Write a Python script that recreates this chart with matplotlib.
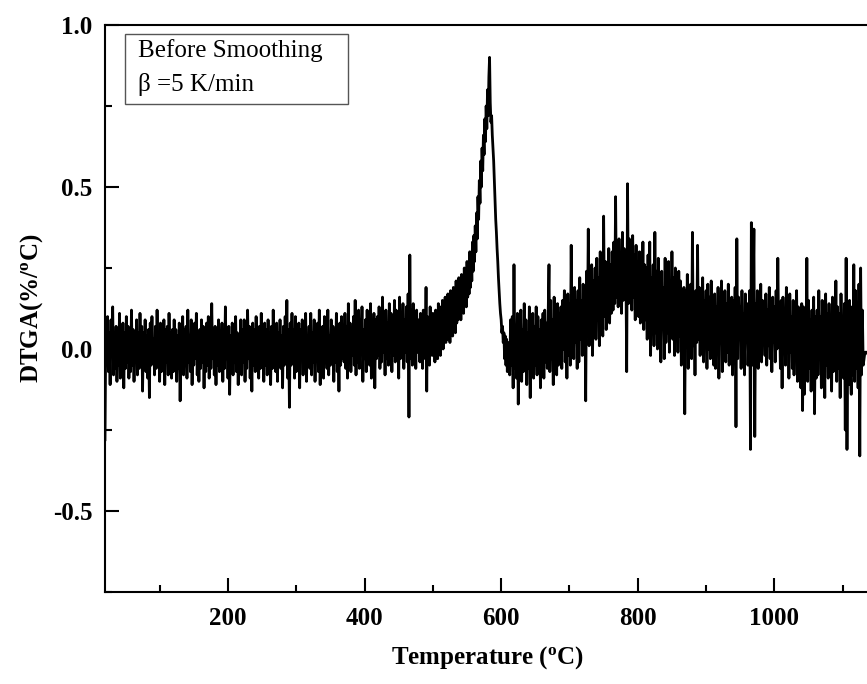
#DTGA curve before smoothing, beta = 5 K/min

import numpy as np
import matplotlib
matplotlib.use('Agg')
import matplotlib.pyplot as plt
from matplotlib.patches import Rectangle

plt.rcParams['font.family'] = ['Liberation Serif', 'DejaVu Serif']
plt.rcParams['mathtext.fontset'] = 'custom'
plt.rcParams['mathtext.rm'] = 'Liberation Serif'
plt.rcParams['mathtext.bf'] = 'Liberation Serif:bold'

# values, in hundredths of %/oC
# baseline, 20 .. 478.75 C every 1.25 C
base_start, base_step = 20.0, 1.25
base_vals = [
    -28, 8, -4, 10, -7, 5, -11, 9, -2, 13, -8, 4, -6, 7, -10, 3, -5, 11, -9, 6,
    -3, 8, -12, 5, -6, 10, -4, 7, -9, 3, -7, 12, -5, 6, -10, 4, -3, 9, -8, 5,
    -6, 11, -4, 7, -13, 5, -3, 9, -7, 4, -9, 6, -15, 8, -5, 10, -4, 3, -8, 7,
    -6, 12, -3, 5, -10, 8, -7, 4, -5, 9, -11, 6, -4, 7, -8, 11, -2, 5, -9, 6,
    -7, 9, -4, 6, -10, 4, -6, 8, -16, 5, -3, 10, -8, 6, -5, 7, -9, 12, -4, 3,
    -7, 9, -11, 5, -5, 8, -3, 11, -8, 4, -10, 6, -6, 9, -4, 7, -12, 5, -7, 8,
    -5, 10, -9, 4, -6, 14, -3, 6, -8, 7, -11, 5, -5, 9, -7, 3, -4, 8, -10, 6,
    -6, 13, -3, 5, -9, 7, -14, 4, -5, 8, -8, 6, -4, 10, -7, 5, -11, 3, -5, 9,
    -8, 6, -4, 9, -10, 5, -6, 12, -3, 7, -9, 4, -13, 8, -5, 6, -7, 10, -4, 5,
    -9, 7, -6, 11, -3, 4, -10, 8, -5, 6, -8, 9, -4, 5, -11, 7, -6, 12, -3, 6,
    -7, 8, -10, 5, -4, 9, -6, 4, -12, 7, -5, 10, -3, 15, -9, 6, -18, 8, -5, 11,
    -4, 6, -9, 10, -7, 4, -5, 8, -12, 6, -3, 9, -8, 5, -6, 11, -10, 4, -4, 7,
    -6, 11, -8, 5, -4, 9, -10, 6, -3, 8, -7, 12, -11, 5, -5, 7, -9, 10, -4, 6,
    -6, 12, -8, 4, -5, 9, -3, 7, -10, 6, -4, 11, -7, 5, -13, 8, -5, 10, -3, 6,
    -4, 11, -6, 7, -9, 14, -3, 8, -7, 6, -2, 10, -5, 15, -8, 7, -4, 12, -6, 9,
    -1, 13, -10, 6, -3, 9, -7, 12, -2, 8, -5, 14, -9, 7, -4, 11, -12, 9, -3, 10,
    -2, 13, -6, 9, -4, 16, -1, 10, -8, 12, -3, 8, -5, 14, 0, 11, -7, 9, -2, 15,
    -4, 12, -1, 10, -9, 16, -3, 11, -2, 14, -6, 9, -1, 13, -4, 17, -21, 29, -3, 12,
    -5, 14, -2, 10, -6, 12, -1, 9,
]

# main peak, 480 .. 610 C every 1 C
peak_start, peak_step = 480.0, 1.0
peak_vals = [
    8, -4, 11, -2, 6, -6, 12, 0, 9, -3, 19, -13, 10, -1, 8, -5, 13, 1, 9, -2,
    11, -1, 10, -4, 12, 2, 9, -3, 14, 1, 11, -2, 13, 3, 15, 0, 12, 4, 16, 2,
    14, 3, 17, 5, 15, 2, 18, 6, 16, 4, 19, 7, 17, 5, 21, 8, 19, 9, 22, 10,
    20, 9, 23, 12, 22, 11, 25, 14, 24, 13, 27, 16, 26, 17, 30, 19, 29, 21, 33, 24,
    35, 27, 38, 30, 42, 34, 47, 40, 52, 45, 58, 50, 62, 55, 66, 60, 71, 64, 75, 68,
    80, 72, 84, 90, 76, 70, 72, 66, 62, 58, 52, 46, 40, 36, 31, 27, 22, 18, 14, 11,
    9, 5, 7, 2, 5, -3, 4, -5, 3, -7, 2,
]

# broad second event and tail, 612.5 .. 1130 C every 1.25 C
tail_start, tail_step = 612.5, 1.25
tail_vals = [
    -8, 9, -5, 10, -12, 26, -6, 7, -9, 11, -17, 8, -4, 12, -10, 6, -7, 14, -3, 9,
    -11, 5, -6, 13, -15, 8, -2, 11, -9, 7, -5, 13, -8, 10, -4, 6, -12, 9, -3, 11,
    -9, 12, -4, 8, -6, 10, 26, -7, 15, -3, 9, -11, 16, -2, 12, -8, 14, -5, 11, -1,
    13, -6, 15, 0, 18, -4, 12, -9, 17, -2, 14, -5, 32, 1, 16, -3, 19, 2, 15, -6,
    18, -4, 22, 3, 15, -2, 20, 5, 14, -16, 24, 4, 37, 1, 19, 8, 26, -2, 21, 6,
    25, 3, 28, 9, 22, 1, 30, 7, 24, 4, 41, 10, 27, 6, 23, 12, 31, 8, 26, 11,
    30, 12, 33, 14, 47, 16, 29, 13, 34, 17, 28, 11, 36, 15, 31, 19, 27, -7, 51, 14,
    34, 18, 30, 12, 35, 16, 29, 9, 32, 13, 27, 10, 30, 8, 28, 11, 33, 6, 26, 9,
    25, 3, 29, 7, 33, -2, 22, 6, 26, 1, 36, 5, 24, 0, 28, 4, 20, -4, 24, 7,
    19, -3, 28, 2, 23, 5, 27, -1, 21, 4, 30, 3, 22, -2, 25, 6, 20, -1, 24, 4,
    21, -5, 15, 2, 19, -20, 18, 4, 23, -6, 16, 1, 20, -3, 36, 1, 14, -8, 18, 2,
    32, 3, 19, -2, 17, 4, 22, -4, 15, 1, 18, -6, 20, 0, 16, -3, 21, 2, 14, -5,
    17, -6, 13, 1, 19, -9, 15, 4, 21, -7, 12, 2, 18, -4, 14, -1, 20, -5, 13, 3,
    16, -8, 15, 0, 19, -24, 34, -3, 16, 5, 13, -6, 18, -2, 11, -8, 17, 2, 14, -5,
    3, 18, -31, 39, -5, 14, 37, -27, 14, 2, 18, -6, 12, 0, 20, -4, 15, 6, 13, -2,
    17, -5, 12, 1, 19, -3, 14, -7, 16, 2, 13, -4, 18, 0, 28, 4, 11, -6, 15, -12,
    16, 1, 11, -5, 19, 3, 14, -9, 17, -1, 10, -6, 15, -8, 12, -3, 18, -10, 13, -5,
    9, -12, 14, -19, 13, -14, 11, -7, 28, -10, 15, -6, 9, -13, 12, -4, 16, -20, 10, -9,
    12, -8, 18, -3, 10, -12, 15, 0, 8, -15, 17, -5, 11, -9, 14, -2, 9, -13, 16, -7,
    12, -4, 21, -10, 13, -6, 11, -15, 17, -3, 10, -9, 14, -25, 28, -31, 9, -11, 15, -6,
    -14, 13, -8, 26, -10, 18, -6, 14, -12, 20, -33, 25, -8, 12, -5,
]

# flat end of the record
end_temps = [1132.5, 1135.0, 1138.0]
end_vals = [-1, -1, -2]

T = np.concatenate([
    base_start + base_step * np.arange(len(base_vals)),
    peak_start + peak_step * np.arange(len(peak_vals)),
    tail_start + tail_step * np.arange(len(tail_vals)),
    end_temps,
])
dtga = np.concatenate([base_vals, peak_vals, tail_vals, end_vals]) / 100.0

fig = plt.figure(figsize=(8.67, 6.84), dpi=100)
ax = fig.add_axes([0.1211, 0.1345, 0.8824, 0.829])

ax.plot(T, dtga, color='black', lw=2.0)

ax.set_xlim(20, 1140)
ax.set_ylim(-0.75, 1.0)
ax.set_xticks([200, 400, 600, 800, 1000])
ax.set_xticks(np.arange(100, 1200, 100), minor=True)
ax.set_yticks([-0.5, 0.0, 0.5, 1.0])
ax.set_yticks([-0.75, -0.25, 0.25, 0.75], minor=True)
ax.set_yticklabels(['-0.5', '0.0', '0.5', '1.0'])

ax.tick_params(which='both', direction='in', width=1.5, labelsize=18, top=False, right=False)
ax.tick_params(which='major', length=10)
ax.tick_params(which='minor', length=5)
ax.tick_params(axis='x', pad=11)
ax.tick_params(axis='y', pad=9)
for lab in ax.get_xticklabels() + ax.get_yticklabels():
    lab.set_fontweight('bold')
for sp in ax.spines.values():
    sp.set_linewidth(1.5)

ax.set_xlabel(r'Temperature ($\mathbf{^{o}}$C)', fontsize=18, fontweight='bold', labelpad=10)
ax.set_ylabel(r'DTGA(%/$\mathbf{^{o}}$C)', fontsize=18, fontweight='bold', labelpad=6)

# legend box
ax.add_patch(Rectangle((0.026, 0.861), 0.292, 0.123, transform=ax.transAxes,
                       fill=False, edgecolor='#555555', lw=1.0))
ax.text(0.043, 0.955, 'Before Smoothing', transform=ax.transAxes, fontsize=18, va='center')
ax.text(0.043, 0.895, 'β =5 K/min', transform=ax.transAxes, fontsize=18, va='center')

plt.savefig('out.png', dpi=100)
